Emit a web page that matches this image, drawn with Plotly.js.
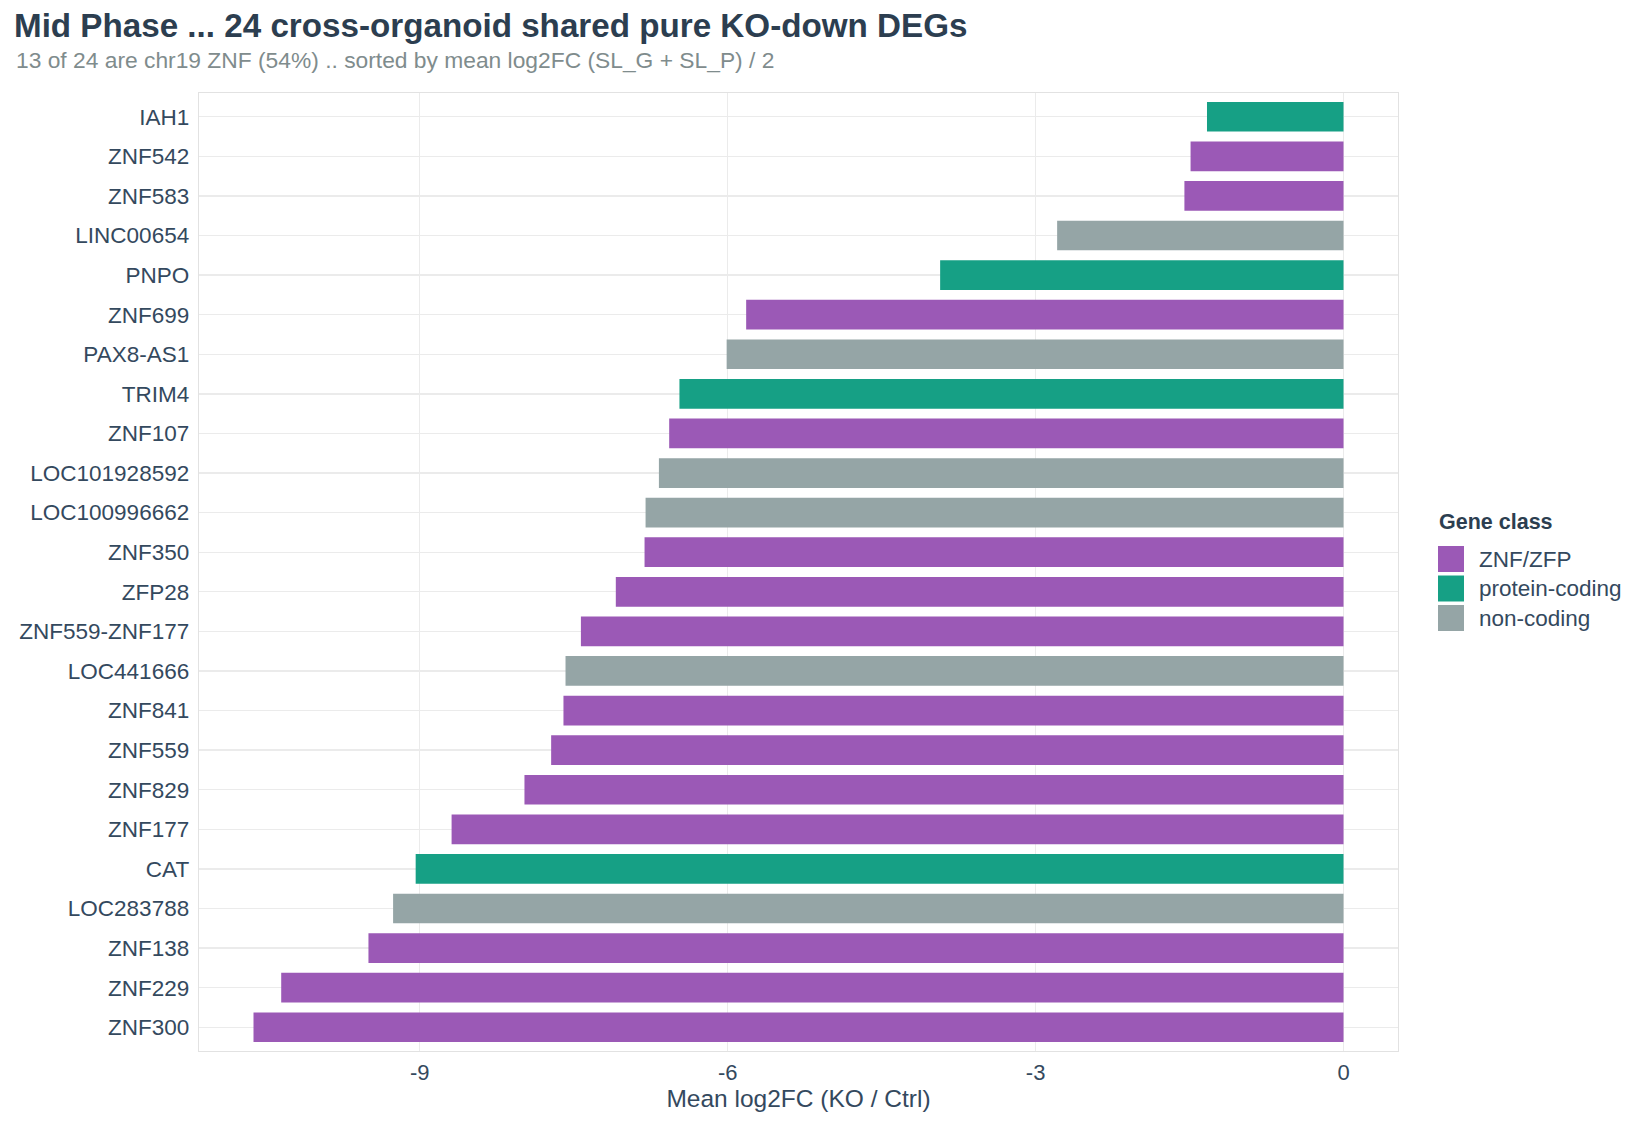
<!DOCTYPE html>
<html>
<head>
<meta charset="utf-8">
<script src="https://cdn.plot.ly/plotly-3.0.1.min.js"></script>
<style>html,body{margin:0;padding:0;background:#fff;}#chart{width:1650px;height:1125px;}</style>
</head>
<body>
<div id="chart"></div>
<script>
// ---- data ----
var genes = ["IAH1","ZNF542","ZNF583","LINC00654","PNPO","ZNF699","PAX8-AS1","TRIM4","ZNF107",
  "LOC101928592","LOC100996662","ZNF350","ZFP28","ZNF559-ZNF177","LOC441666","ZNF841","ZNF559",
  "ZNF829","ZNF177","CAT","LOC283788","ZNF138","ZNF229","ZNF300"];
var meanLog2FC = [-1.33,-1.49,-1.55,-2.79,-3.93,-5.82,-6.01,-6.47,-6.57,-6.67,-6.80,-6.81,-7.09,
  -7.43,-7.58,-7.60,-7.72,-7.98,-8.69,-9.04,-9.26,-9.50,-10.35,-10.62];
var geneClass = ["protein-coding","ZNF/ZFP","ZNF/ZFP","non-coding","protein-coding","ZNF/ZFP",
  "non-coding","protein-coding","ZNF/ZFP","non-coding","non-coding","ZNF/ZFP","ZNF/ZFP","ZNF/ZFP",
  "non-coding","ZNF/ZFP","ZNF/ZFP","ZNF/ZFP","ZNF/ZFP","protein-coding","non-coding","ZNF/ZFP",
  "ZNF/ZFP","ZNF/ZFP"];
var classNames = ["ZNF/ZFP","protein-coding","non-coding"];
var classColors = ["#9B59B6","#16A085","#95A5A6"];
var xTicks = [-9,-6,-3,0];

var FONT = "Liberation Sans, Arial, Helvetica, sans-serif";
var DARK = "#2C3E50";
var MID = "#34495E";

var colorOf = {};
classNames.forEach(function(c,i){ colorOf[c] = classColors[i]; });

var trace = {
  type: "bar",
  orientation: "h",
  x: meanLog2FC,
  y: genes,
  width: 0.75,
  marker: { color: geneClass.map(function(c){ return colorOf[c]; }), line: {width: 0} },
  showlegend: false,
  hovertemplate: "%{y}: %{x}<extra></extra>"
};

// plot geometry (pixels)
var L = 199, R = 1398, T = 93, B = 1051;
var W = 1650, H = 1125;
function px2paperX(px){ return (px - L) / (R - L); }
function px2paperY(py){ return (B - py) / (B - T); }

var dataMin = Math.min.apply(null, meanLog2FC);
var pad = (0 - dataMin) * 0.05;

var shapes = [];
var annotations = [];

// subtitle
annotations.push({
  xref: "paper", yref: "paper",
  x: px2paperX(14), y: px2paperY(60),
  xanchor: "left", yanchor: "middle",
  text: "13 of 24 are chr19 ZNF (54%) .. sorted by mean log2FC (SL_G + SL_P) / 2",
  showarrow: false,
  font: { family: FONT, size: 22.8, color: "#7F8C8D" }
});

// legend (manual, to match large square keys)
annotations.push({
  xref: "paper", yref: "paper",
  x: px2paperX(1437), y: px2paperY(522),
  xanchor: "left", yanchor: "middle",
  text: "<b>Gene class</b>", showarrow: false,
  font: { family: FONT, size: 21.5, color: DARK }
});
var keyTop = 546, keyStep = 29.5, keySize = 26;
classNames.forEach(function(c, i){
  var y0 = keyTop + i * keyStep;
  shapes.push({
    type: "rect", xref: "paper", yref: "paper",
    x0: px2paperX(1438), x1: px2paperX(1438 + keySize),
    y0: px2paperY(y0 + keySize), y1: px2paperY(y0),
    fillcolor: classColors[i], line: { width: 0 }
  });
  annotations.push({
    xref: "paper", yref: "paper",
    x: px2paperX(1477), y: px2paperY(y0 + keySize / 2),
    xanchor: "left", yanchor: "middle",
    text: c, showarrow: false,
    font: { family: FONT, size: 22.5, color: MID }
  });
});

var layout = {
  width: W, height: H,
  paper_bgcolor: "#FFFFFF", plot_bgcolor: "#FFFFFF",
  margin: { l: L, r: W - R, t: T, b: H - B, pad: 0 },
  font: { family: FONT, color: MID },
  title: {
    text: "<b>Mid Phase ... 24 cross-organoid shared pure KO-down DEGs</b>",
    x: 14 / W, xref: "container", xanchor: "left",
    y: 1 - 25 / H, yref: "container", yanchor: "middle",
    font: { family: FONT, size: 33.2, color: DARK }
  },
  xaxis: {
    range: [dataMin - pad, 0 + pad],
    tickvals: xTicks,
    ticktext: xTicks.map(function(v){ return String(v); }),
    ticks: "outside", ticklen: 1, tickcolor: "rgba(0,0,0,0)",
    tickfont: { family: FONT, size: 22, color: MID },
    showgrid: true, gridcolor: "#EBEBEB", gridwidth: 1.3,
    zeroline: false,
    showline: true, mirror: true, linecolor: "#E2E2E2", linewidth: 1.3,
    title: { text: "Mean log2FC (KO / Ctrl)", standoff: 4,
             font: { family: FONT, size: 24.5, color: MID } },
    fixedrange: true
  },
  yaxis: {
    type: "category",
    categoryorder: "array", categoryarray: genes,
    range: [genes.length - 1 + 0.6, -0.6],
    ticks: "outside", ticklen: 4, tickcolor: "rgba(0,0,0,0)",
    tickfont: { family: FONT, size: 22.5, color: MID },
    showgrid: true, gridcolor: "#EBEBEB", gridwidth: 1.3,
    zeroline: false,
    showline: true, mirror: true, linecolor: "#E2E2E2", linewidth: 1.3,
    automargin: false,
    fixedrange: true
  },
  bargap: 0.25,
  shapes: shapes,
  annotations: annotations,
  showlegend: false
};

Plotly.newPlot("chart", [trace], layout, { displayModeBar: false, staticPlot: true });
</script>
</body>
</html>
